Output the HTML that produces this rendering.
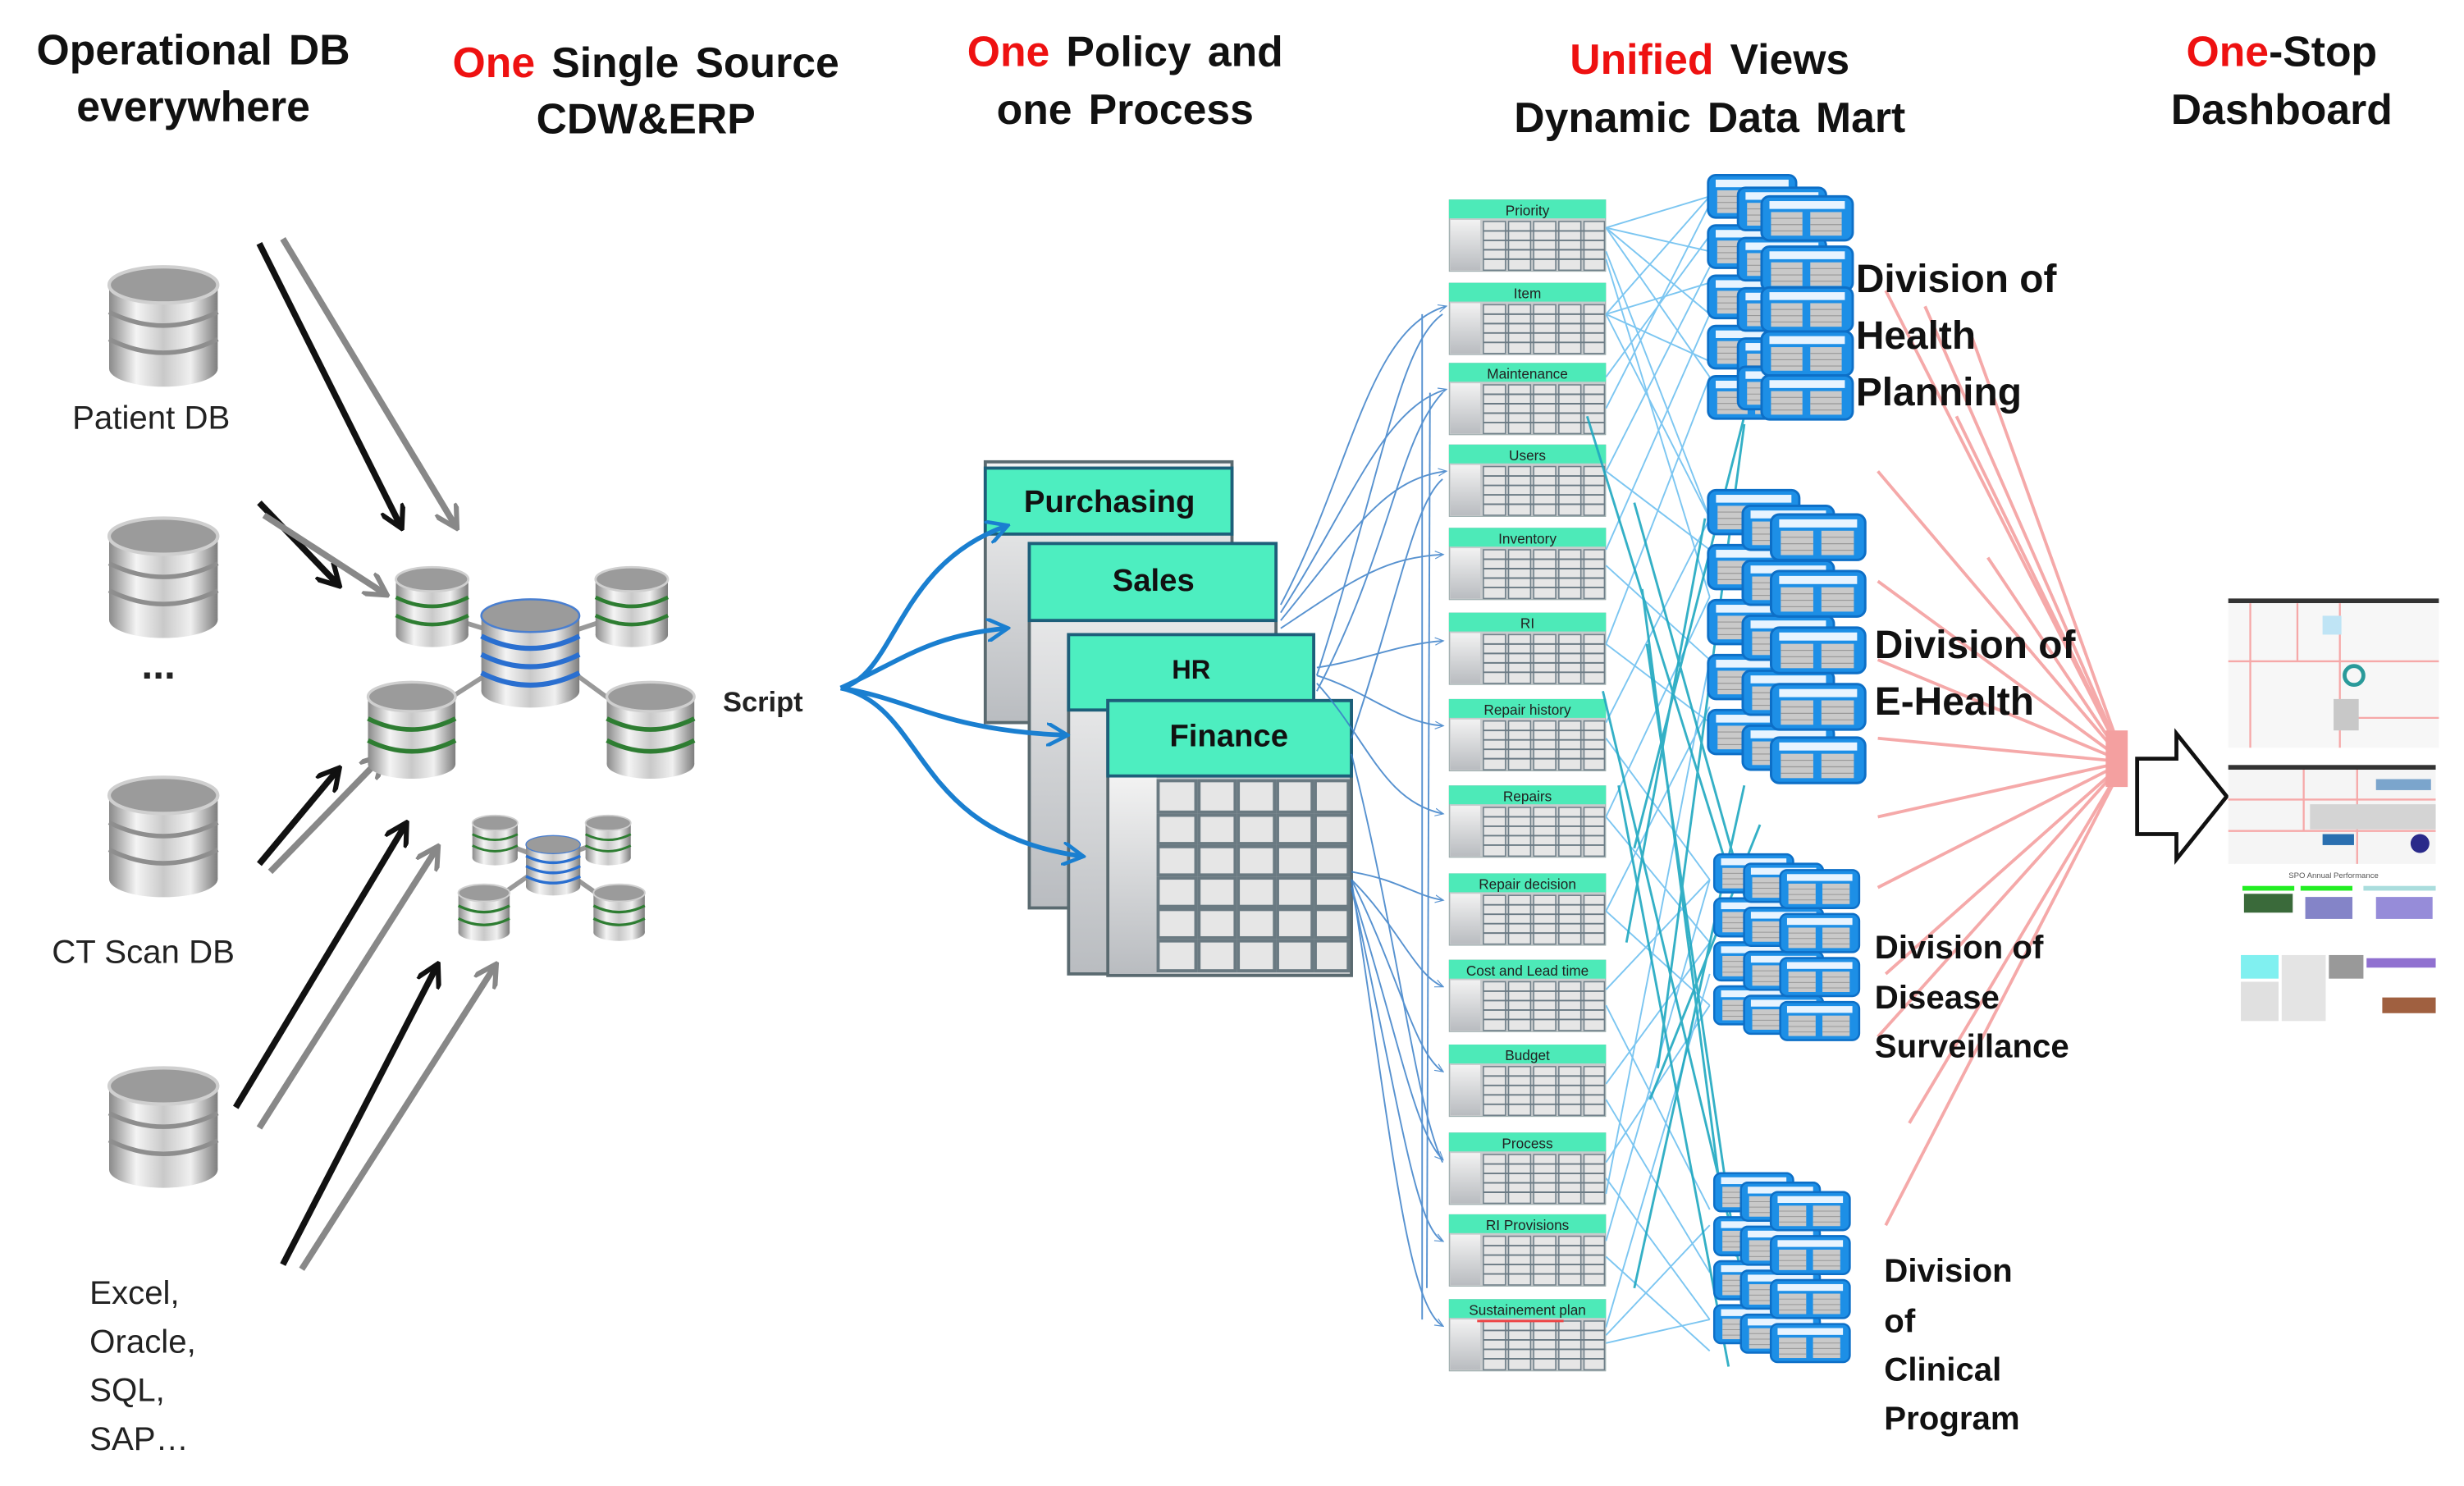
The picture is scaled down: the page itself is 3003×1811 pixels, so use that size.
<!DOCTYPE html>
<html><head><meta charset="utf-8"><style>
html,body{margin:0;padding:0;background:#fff;}
svg{display:block;}
text{font-family:"Liberation Sans",sans-serif;}
</style></head><body>
<svg width="3003" height="1811" viewBox="0 0 1568 946" preserveAspectRatio="none" xmlns="http://www.w3.org/2000/svg">
<defs>
<linearGradient id="cyl" x1="0" x2="1" y1="0" y2="0">
<stop offset="0" stop-color="#8a8a8a"/><stop offset="0.25" stop-color="#f4f4f4"/><stop offset="0.5" stop-color="#c9c9c9"/><stop offset="0.75" stop-color="#f0f0f0"/><stop offset="1" stop-color="#7d7d7d"/>
</linearGradient>
<linearGradient id="col" x1="0" x2="0" y1="0" y2="1"><stop offset="0" stop-color="#f2f2f2"/><stop offset="1" stop-color="#b9bcc0"/></linearGradient>
<symbol id="dbg" viewBox="0 0 100 110">
<rect x="2" y="18" width="96" height="74" fill="url(#cyl)"/>
<ellipse cx="50" cy="92" rx="48" ry="16" fill="url(#cyl)"/>
<path d="M2 42 Q50 66 98 42" stroke="#8e8e8e" stroke-width="4" fill="none"/>
<path d="M2 66 Q50 90 98 66" stroke="#8e8e8e" stroke-width="4" fill="none"/>
<ellipse cx="50" cy="18" rx="48" ry="16" fill="#9b9b9b" stroke="#cfcfcf" stroke-width="3"/>
</symbol>
<symbol id="dbgr" viewBox="0 0 100 110">
<rect x="2" y="18" width="96" height="74" fill="url(#cyl)"/>
<ellipse cx="50" cy="92" rx="48" ry="16" fill="url(#cyl)"/>
<path d="M2 42 Q50 66 98 42" stroke="#2e7d32" stroke-width="5" fill="none"/>
<path d="M2 66 Q50 90 98 66" stroke="#2e7d32" stroke-width="5" fill="none"/>
<ellipse cx="50" cy="18" rx="48" ry="16" fill="#9b9b9b" stroke="#cfcfcf" stroke-width="3"/>
</symbol>
<symbol id="dbb" viewBox="0 0 100 110">
<rect x="2" y="18" width="96" height="74" fill="url(#cyl)"/>
<ellipse cx="50" cy="92" rx="48" ry="16" fill="url(#cyl)"/>
<path d="M2 38 Q50 62 98 38" stroke="#2a6fd0" stroke-width="5" fill="none"/>
<path d="M2 56 Q50 80 98 56" stroke="#2a6fd0" stroke-width="5" fill="none"/>
<path d="M2 74 Q50 98 98 74" stroke="#2a6fd0" stroke-width="5" fill="none"/>
<ellipse cx="50" cy="18" rx="48" ry="16" fill="#9b9b9b" stroke="#4a7fd0" stroke-width="2"/>
</symbol>
<symbol id="tb" viewBox="0 0 100 46">
<rect x="0" y="0" width="100" height="46" fill="#c8cbcd" stroke="#9aa" stroke-width="1"/>
<rect x="0" y="0" width="100" height="12" fill="#4deab8"/>
<rect x="1" y="13" width="19" height="32" fill="url(#col)"/>
<g fill="#e6e6e6" stroke="#70808a" stroke-width="0.8">
<rect x="22" y="14" width="14" height="31"/><rect x="38" y="14" width="14" height="31"/><rect x="54" y="14" width="14" height="31"/><rect x="70" y="14" width="14" height="31"/><rect x="86" y="14" width="13" height="31"/>
</g>
<g stroke="#6a7a84" stroke-width="1"><line x1="22" y1="20" x2="99" y2="20"/><line x1="22" y1="26" x2="99" y2="26"/><line x1="22" y1="32" x2="99" y2="32"/><line x1="22" y1="38" x2="99" y2="38"/></g>
</symbol>
<symbol id="vw" viewBox="0 0 60 30">
<rect x="1" y="1" width="58" height="28" rx="5" fill="#1d8fe6" stroke="#0d6fc7" stroke-width="1.5"/>
<rect x="6" y="4" width="48" height="5" fill="#e8f4ff"/>
<rect x="7" y="11" width="20" height="15" fill="#c9c9c9"/><rect x="32" y="11" width="20" height="15" fill="#c9c9c9"/>
<g stroke="#999" stroke-width="0.6"><line x1="7" y1="15" x2="27" y2="15"/><line x1="7" y1="19" x2="27" y2="19"/><line x1="7" y1="23" x2="27" y2="23"/><line x1="32" y1="15" x2="52" y2="15"/><line x1="32" y1="19" x2="52" y2="19"/><line x1="32" y1="23" x2="52" y2="23"/></g>
</symbol>
<marker id="ab" viewBox="0 0 10 10" refX="8" refY="5" markerWidth="4" markerHeight="4" orient="auto"><path d="M0 0 L9 5 L0 10" fill="none" stroke="#111" stroke-width="2"/></marker>
<marker id="ag" viewBox="0 0 10 10" refX="8" refY="5" markerWidth="4" markerHeight="4" orient="auto"><path d="M0 0 L9 5 L0 10" fill="none" stroke="#888" stroke-width="2"/></marker>
<marker id="abl" viewBox="0 0 10 10" refX="8" refY="5" markerWidth="5" markerHeight="5" orient="auto"><path d="M0 0 L9 5 L0 10" fill="none" stroke="#1a7fd0" stroke-width="1.6"/></marker>
<marker id="at" viewBox="0 0 10 10" refX="8" refY="5" markerWidth="6" markerHeight="6" orient="auto"><path d="M0 1 L9 5 L0 9" fill="none" stroke="#3a7fc8" stroke-width="1"/></marker>
</defs>

<!-- Titles -->
<g font-weight="bold" font-size="27" text-anchor="middle" fill="#111" word-spacing="3">
<text x="123" y="41">Operational DB</text><text x="123" y="77">everywhere</text>
<text x="411" y="49"><tspan fill="#ee1111">One</tspan> Single Source</text><text x="411" y="85">CDW&amp;ERP</text>
<text x="716" y="42"><tspan fill="#ee1111">One</tspan> Policy and</text><text x="716" y="79">one Process</text>
<text x="1088" y="47"><tspan fill="#ee1111">Unified</tspan> Views</text><text x="1088" y="84">Dynamic Data Mart</text>
<text x="1452" y="42"><tspan fill="#ee1111">One</tspan>-Stop</text><text x="1452" y="79">Dashboard</text>
</g>

<!-- source DBs -->
<use href="#dbg" x="68" y="168" width="72" height="80"/>
<use href="#dbg" x="68" y="328" width="72" height="80"/>
<use href="#dbg" x="68" y="493" width="72" height="80"/>
<use href="#dbg" x="68" y="678" width="72" height="80"/>
<g font-size="21" fill="#222">
<text x="46" y="273">Patient DB</text>
<text x="90" y="432" font-size="26" font-weight="bold">...</text>
<text x="33" y="613">CT Scan DB</text>
<text x="57" y="830">Excel,</text><text x="57" y="861">Oracle,</text><text x="57" y="892">SQL,</text><text x="57" y="923">SAP…</text>
</g>

<!-- black/gray arrows -->
<g stroke-width="4" fill="none">
<line x1="165" y1="155" x2="255" y2="335" stroke="#111" marker-end="url(#ab)"/>
<line x1="180" y1="152" x2="290" y2="335" stroke="#888" marker-end="url(#ag)"/>
<line x1="165" y1="320" x2="215" y2="372" stroke="#111" marker-end="url(#ab)"/>
<line x1="168" y1="328" x2="245" y2="378" stroke="#888" marker-end="url(#ag)"/>
<line x1="165" y1="550" x2="215" y2="490" stroke="#111" marker-end="url(#ab)"/>
<line x1="172" y1="555" x2="243" y2="482" stroke="#888" marker-end="url(#ag)"/>
<line x1="150" y1="705" x2="258" y2="525" stroke="#111" marker-end="url(#ab)"/>
<line x1="165" y1="718" x2="278" y2="540" stroke="#888" marker-end="url(#ag)"/>
<line x1="180" y1="805" x2="278" y2="615" stroke="#111" marker-end="url(#ab)"/>
<line x1="192" y1="808" x2="315" y2="615" stroke="#888" marker-end="url(#ag)"/>
</g>

<!-- central cluster -->
<g stroke="#999" stroke-width="3">
<line x1="275" y1="390" x2="340" y2="410"/><line x1="400" y1="390" x2="340" y2="410"/>
<line x1="262" y1="460" x2="340" y2="410"/><line x1="415" y1="465" x2="340" y2="410"/>
<line x1="315" y1="535" x2="350" y2="548"/><line x1="385" y1="535" x2="350" y2="548"/><line x1="307" y1="578" x2="350" y2="548"/><line x1="393" y1="578" x2="350" y2="548"/>
</g>
<use href="#dbgr" x="251" y="358" width="48" height="57"/>
<use href="#dbgr" x="378" y="358" width="48" height="57"/>
<use href="#dbb" x="305" y="372" width="65" height="88"/>
<use href="#dbgr" x="233" y="430" width="58" height="70"/>
<use href="#dbgr" x="385" y="430" width="58" height="70"/>
<use href="#dbgr" x="300" y="517" width="30" height="36"/>
<use href="#dbgr" x="372" y="517" width="30" height="36"/>
<use href="#dbb" x="334" y="527" width="36" height="48"/>
<use href="#dbgr" x="291" y="561" width="34" height="40"/>
<use href="#dbgr" x="377" y="561" width="34" height="40"/>

<text x="460" y="453" font-size="18" font-weight="bold" fill="#222" font-family="Liberation Serif">Script</text>

<!-- stacked tables -->
<g stroke="#1d5f7a" stroke-width="2">
<rect x="627" y="294" width="157" height="166" fill="url(#col)" stroke="#5a6a70"/>
<rect x="627" y="298" width="157" height="42" fill="#4deec0"/>
<rect x="655" y="346" width="157" height="232" fill="url(#col)" stroke="#5a6a70"/>
<rect x="655" y="346" width="157" height="49" fill="#4deec0"/>
<rect x="680" y="404" width="156" height="216" fill="url(#col)" stroke="#5a6a70"/>
<rect x="680" y="404" width="156" height="48" fill="#4deec0"/>
<rect x="705" y="446" width="155" height="175" fill="#c8cbcd" stroke="#5a6a70"/>
<rect x="705" y="446" width="155" height="48" fill="#4deec0"/>
<rect x="706" y="495" width="30" height="125" fill="url(#col)" stroke="none"/>
</g>
<g fill="#e6e6e6" stroke="#6a7a82" stroke-width="2">
<rect x="737" y="497" width="24" height="20"/><rect x="763" y="497" width="23" height="20"/><rect x="788" y="497" width="23" height="20"/><rect x="813" y="497" width="22" height="20"/><rect x="837" y="497" width="21" height="20"/>
<rect x="737" y="519" width="24" height="18"/><rect x="763" y="519" width="23" height="18"/><rect x="788" y="519" width="23" height="18"/><rect x="813" y="519" width="22" height="18"/><rect x="837" y="519" width="21" height="18"/>
<rect x="737" y="539" width="24" height="18"/><rect x="763" y="539" width="23" height="18"/><rect x="788" y="539" width="23" height="18"/><rect x="813" y="539" width="22" height="18"/><rect x="837" y="539" width="21" height="18"/>
<rect x="737" y="559" width="24" height="18"/><rect x="763" y="559" width="23" height="18"/><rect x="788" y="559" width="23" height="18"/><rect x="813" y="559" width="22" height="18"/><rect x="837" y="559" width="21" height="18"/>
<rect x="737" y="579" width="24" height="18"/><rect x="763" y="579" width="23" height="18"/><rect x="788" y="579" width="23" height="18"/><rect x="813" y="579" width="22" height="18"/><rect x="837" y="579" width="21" height="18"/>
<rect x="737" y="599" width="24" height="19"/><rect x="763" y="599" width="23" height="19"/><rect x="788" y="599" width="23" height="19"/><rect x="813" y="599" width="22" height="19"/><rect x="837" y="599" width="21" height="19"/>
</g>
<g font-weight="bold" fill="#111" text-anchor="middle" font-family="Liberation Sans">
<text x="706" y="326" font-size="20">Purchasing</text>
<text x="734" y="376" font-size="20">Sales</text>
<text x="758" y="432" font-size="17">HR</text>
<text x="782" y="475" font-size="20">Finance</text>
</g>

<!-- blue fan from script (over tables) -->
<g stroke="#1a7fd0" stroke-width="3" fill="none">
<path d="M535 438 C570 430 570 360 640 335" marker-end="url(#abl)"/>
<path d="M535 438 C575 420 590 405 640 400" marker-end="url(#abl)"/>
<path d="M535 438 C580 445 600 465 678 468" marker-end="url(#abl)"/>
<path d="M535 438 C590 450 580 530 688 545" marker-end="url(#abl)"/>
</g>

<!-- thin blue curves to table column -->
<g stroke="#3a7fc8" stroke-width="1" fill="none" opacity="0.85">
<path d="M815 385 C860 300 870 210 920 195" marker-end="url(#at)"/>
<path d="M815 390 C860 320 880 260 920 248" marker-end="url(#at)"/>
<path d="M815 395 C860 340 880 305 920 300" marker-end="url(#at)"/>
<path d="M815 400 C860 370 880 355 918 353" marker-end="url(#at)"/>
<path d="M838 425 C870 420 890 410 918 408" marker-end="url(#at)"/>
<path d="M838 430 C870 440 890 460 918 462" marker-end="url(#at)"/>
<path d="M838 435 C870 470 880 510 918 518" marker-end="url(#at)"/>
<path d="M860 555 C890 560 900 570 918 573" marker-end="url(#at)"/>
<path d="M860 560 C890 590 900 620 918 628" marker-end="url(#at)"/>
<path d="M860 560 C890 620 900 670 918 682" marker-end="url(#at)"/>
<path d="M860 565 C890 660 900 720 918 738" marker-end="url(#at)"/>
<path d="M860 565 C890 700 900 780 918 790" marker-end="url(#at)"/>
<path d="M860 560 C885 720 895 830 918 844" marker-end="url(#at)"/>
<path d="M838 430 C880 300 890 220 918 200"/>
<path d="M838 440 C885 350 890 280 918 250"/>
<path d="M860 470 C890 380 900 320 918 305"/>
<path d="M860 480 C890 600 900 700 918 740"/>
<path d="M905 200 L905 840"/><path d="M910 250 L908 820"/>
</g>

<!-- table column -->
<g>
<use href="#tb" x="922" y="127" width="100" height="46"/>
<use href="#tb" x="922" y="180" width="100" height="46"/>
<use href="#tb" x="922" y="231" width="100" height="46"/>
<use href="#tb" x="922" y="283" width="100" height="46"/>
<use href="#tb" x="922" y="336" width="100" height="46"/>
<use href="#tb" x="922" y="390" width="100" height="46"/>
<use href="#tb" x="922" y="445" width="100" height="46"/>
<use href="#tb" x="922" y="500" width="100" height="46"/>
<use href="#tb" x="922" y="556" width="100" height="46"/>
<use href="#tb" x="922" y="611" width="100" height="46"/>
<use href="#tb" x="922" y="665" width="100" height="46"/>
<use href="#tb" x="922" y="721" width="100" height="46"/>
<use href="#tb" x="922" y="773" width="100" height="46"/>
<use href="#tb" x="922" y="827" width="100" height="46"/>
</g>
<g font-size="9" fill="#222" text-anchor="middle" font-family="Liberation Sans Narrow, Liberation Sans">
<text x="972" y="137">Priority</text><text x="972" y="190">Item</text><text x="972" y="241">Maintenance</text><text x="972" y="293">Users</text><text x="972" y="346">Inventory</text><text x="972" y="400">RI</text><text x="972" y="455">Repair history</text><text x="972" y="510">Repairs</text><text x="972" y="566">Repair decision</text><text x="972" y="621">Cost and Lead time</text><text x="972" y="675">Budget</text><text x="972" y="731">Process</text><text x="972" y="783">RI Provisions</text><text x="972" y="837">Sustainement plan</text>
</g>
<line x1="940" y1="841" x2="995" y2="841" stroke="#e44" stroke-width="1.5"/>

<!-- crossing lines -->
<g stroke="#6ec0f0" stroke-width="1" opacity="0.9">
<line x1="1022" y1="145" x2="1088" y2="125"/><line x1="1022" y1="145" x2="1088" y2="160"/><line x1="1022" y1="145" x2="1088" y2="200"/><line x1="1022" y1="145" x2="1088" y2="240"/>
<line x1="1022" y1="200" x2="1088" y2="125"/><line x1="1022" y1="200" x2="1088" y2="180"/><line x1="1022" y1="200" x2="1088" y2="230"/><line x1="1022" y1="200" x2="1088" y2="330"/>
<line x1="1022" y1="160" x2="1088" y2="330"/><line x1="1022" y1="165" x2="1088" y2="380"/><line x1="1022" y1="260" x2="1088" y2="130"/><line x1="1022" y1="240" x2="1088" y2="150"/>
<line x1="1022" y1="300" x2="1088" y2="170"/><line x1="1022" y1="300" x2="1088" y2="350"/><line x1="1022" y1="350" x2="1088" y2="200"/><line x1="1022" y1="360" x2="1088" y2="420"/>
<line x1="1022" y1="410" x2="1088" y2="240"/><line x1="1022" y1="410" x2="1088" y2="460"/><line x1="1022" y1="460" x2="1088" y2="330"/><line x1="1022" y1="470" x2="1088" y2="560"/>
<line x1="1022" y1="520" x2="1088" y2="380"/><line x1="1022" y1="520" x2="1088" y2="600"/><line x1="1022" y1="580" x2="1088" y2="450"/><line x1="1022" y1="580" x2="1088" y2="640"/>
<line x1="1022" y1="630" x2="1088" y2="560"/><line x1="1022" y1="640" x2="1088" y2="770"/><line x1="1022" y1="690" x2="1088" y2="600"/><line x1="1022" y1="700" x2="1088" y2="810"/>
<line x1="1022" y1="740" x2="1088" y2="640"/><line x1="1022" y1="750" x2="1088" y2="840"/><line x1="1022" y1="790" x2="1088" y2="560"/><line x1="1022" y1="800" x2="1088" y2="860"/>
<line x1="1022" y1="845" x2="1088" y2="620"/><line x1="1022" y1="850" x2="1088" y2="780"/><line x1="1022" y1="855" x2="1088" y2="840"/><line x1="1022" y1="760" x2="1088" y2="420"/>
</g>
<g stroke="#1fa8c0" stroke-width="1.5" opacity="0.9">
<line x1="1010" y1="265" x2="1100" y2="555"/><line x1="1040" y1="320" x2="1110" y2="570"/><line x1="1045" y1="375" x2="1095" y2="760"/><line x1="1048" y1="410" x2="1105" y2="800"/>
<line x1="1040" y1="540" x2="1110" y2="265"/><line x1="1035" y1="600" x2="1085" y2="330"/><line x1="1050" y1="700" x2="1120" y2="525"/><line x1="1040" y1="820" x2="1110" y2="500"/>
<line x1="1030" y1="500" x2="1100" y2="870"/><line x1="1020" y1="440" x2="1120" y2="860"/><line x1="1055" y1="680" x2="1110" y2="270"/>
</g>

<!-- views groups -->
<g>
<use href="#vw" x="1086" y="110" width="58" height="30"/><use href="#vw" x="1086" y="142" width="58" height="30"/><use href="#vw" x="1086" y="174" width="58" height="30"/><use href="#vw" x="1086" y="206" width="58" height="30"/><use href="#vw" x="1086" y="238" width="58" height="30"/>
<use href="#vw" x="1105" y="118" width="58" height="30"/><use href="#vw" x="1105" y="150" width="58" height="30"/><use href="#vw" x="1105" y="182" width="58" height="30"/><use href="#vw" x="1105" y="214" width="58" height="30"/><use href="#vw" x="1105" y="232" width="58" height="30"/>
<use href="#vw" x="1120" y="124" width="60" height="30"/><use href="#vw" x="1120" y="156" width="60" height="30"/><use href="#vw" x="1120" y="182" width="60" height="30"/><use href="#vw" x="1120" y="210" width="60" height="30"/><use href="#vw" x="1120" y="238" width="60" height="30"/>

<use href="#vw" x="1086" y="310" width="60" height="32"/><use href="#vw" x="1086" y="345" width="60" height="32"/><use href="#vw" x="1086" y="380" width="60" height="32"/><use href="#vw" x="1086" y="415" width="60" height="32"/><use href="#vw" x="1086" y="450" width="60" height="32"/>
<use href="#vw" x="1108" y="320" width="60" height="32"/><use href="#vw" x="1108" y="355" width="60" height="32"/><use href="#vw" x="1108" y="390" width="60" height="32"/><use href="#vw" x="1108" y="425" width="60" height="32"/><use href="#vw" x="1108" y="460" width="60" height="32"/>
<use href="#vw" x="1126" y="326" width="62" height="32"/><use href="#vw" x="1126" y="362" width="62" height="32"/><use href="#vw" x="1126" y="398" width="62" height="32"/><use href="#vw" x="1126" y="434" width="62" height="32"/><use href="#vw" x="1126" y="468" width="62" height="32"/>

<use href="#vw" x="1088" y="543" width="56" height="26"/><use href="#vw" x="1088" y="571" width="56" height="26"/><use href="#vw" x="1088" y="599" width="56" height="26"/><use href="#vw" x="1088" y="627" width="56" height="26"/>
<use href="#vw" x="1106" y="549" width="58" height="26"/><use href="#vw" x="1106" y="577" width="58" height="26"/><use href="#vw" x="1106" y="605" width="58" height="26"/><use href="#vw" x="1106" y="633" width="58" height="26"/>
<use href="#vw" x="1128" y="553" width="60" height="26"/><use href="#vw" x="1128" y="581" width="60" height="26"/><use href="#vw" x="1128" y="609" width="60" height="26"/><use href="#vw" x="1128" y="637" width="60" height="26"/>

<use href="#vw" x="1088" y="746" width="56" height="26"/><use href="#vw" x="1088" y="774" width="56" height="26"/><use href="#vw" x="1088" y="802" width="56" height="26"/><use href="#vw" x="1088" y="830" width="56" height="26"/>
<use href="#vw" x="1104" y="752" width="58" height="26"/><use href="#vw" x="1104" y="780" width="58" height="26"/><use href="#vw" x="1104" y="808" width="58" height="26"/><use href="#vw" x="1104" y="836" width="58" height="26"/>
<use href="#vw" x="1122" y="758" width="60" height="26"/><use href="#vw" x="1122" y="786" width="60" height="26"/><use href="#vw" x="1122" y="814" width="60" height="26"/><use href="#vw" x="1122" y="842" width="60" height="26"/>
</g>

<!-- pink lines -->
<g stroke="#f4a0a0" stroke-width="2" opacity="0.9">
<line x1="1200" y1="185" x2="1352" y2="485"/><line x1="1225" y1="195" x2="1352" y2="485"/><line x1="1255" y1="215" x2="1352" y2="485"/><line x1="1245" y1="265" x2="1352" y2="485"/>
<line x1="1195" y1="300" x2="1352" y2="485"/><line x1="1195" y1="370" x2="1352" y2="485"/><line x1="1195" y1="420" x2="1352" y2="485"/><line x1="1195" y1="470" x2="1352" y2="485"/>
<line x1="1195" y1="520" x2="1352" y2="485"/><line x1="1195" y1="565" x2="1352" y2="485"/><line x1="1200" y1="620" x2="1352" y2="485"/><line x1="1195" y1="660" x2="1352" y2="485"/>
<line x1="1200" y1="780" x2="1352" y2="485"/><line x1="1215" y1="715" x2="1352" y2="485"/><line x1="1265" y1="355" x2="1352" y2="485"/>
</g>
<rect x="1340" y="465" width="14" height="36" fill="#f4a0a0"/>

<!-- division labels -->
<g font-weight="bold" fill="#111" font-family="Liberation Sans">
<text x="1181" y="186" font-size="25">Division of</text><text x="1181" y="222" font-size="25">Health</text><text x="1181" y="258" font-size="25">Planning</text>
<text x="1193" y="419" font-size="25">Division of</text><text x="1193" y="455" font-size="25">E-Health</text>
<text x="1193" y="610" font-size="21">Division of</text><text x="1193" y="642" font-size="21">Disease</text><text x="1193" y="673" font-size="21">Surveillance</text>
<text x="1199" y="816" font-size="21">Division</text><text x="1199" y="848" font-size="21">of</text><text x="1199" y="879" font-size="21">Clinical</text><text x="1199" y="910" font-size="21">Program</text>
</g>

<!-- big arrow -->
<path d="M1360 483 L1385 483 L1385 467 L1417 507 L1385 547 L1385 531 L1360 531 Z" fill="#fff" stroke="#111" stroke-width="2.5"/>

<!-- dashboard -->
<g>
<rect x="1418" y="381" width="134" height="3" fill="#333"/>
<rect x="1418" y="384" width="134" height="92" fill="#f7f7f7"/>
<g stroke="#f6a8a8" stroke-width="1.2"><line x1="1418" y1="421" x2="1552" y2="421"/><line x1="1432" y1="384" x2="1432" y2="476"/><line x1="1462" y1="384" x2="1462" y2="421"/><line x1="1489" y1="384" x2="1489" y2="476"/><line x1="1489" y1="457" x2="1552" y2="457"/></g>
<rect x="1478" y="392" width="12" height="12" fill="#bfe4f5"/><ellipse cx="1498" cy="430" rx="6" ry="6" fill="none" stroke="#2a9a9a" stroke-width="2.5"/>
<rect x="1485" y="445" width="16" height="20" fill="#c8c8c8"/>
<rect x="1418" y="487" width="132" height="3" fill="#333"/>
<rect x="1418" y="490" width="132" height="60" fill="#f5f5f5"/>
<g stroke="#f6a8a8" stroke-width="1.2"><line x1="1418" y1="509" x2="1550" y2="509"/><line x1="1418" y1="529" x2="1550" y2="529"/><line x1="1466" y1="490" x2="1466" y2="529"/><line x1="1500" y1="490" x2="1500" y2="550"/></g>
<rect x="1470" y="512" width="80" height="16" fill="#d4d4d4"/>
<rect x="1512" y="496" width="35" height="7" fill="#2a6fb0" opacity="0.6"/>
<rect x="1478" y="531" width="20" height="7" fill="#2a6fb0"/>
<circle cx="1540" cy="537" r="6" fill="#2a2a8a"/>
<text x="1485" y="559" font-size="5" fill="#555" text-anchor="middle">SPO Annual Performance</text>
<rect x="1427" y="564" width="33" height="3" fill="#22ee22"/><rect x="1464" y="564" width="33" height="3" fill="#22ee22"/><rect x="1504" y="564" width="46" height="3" fill="#aadddd"/>
<rect x="1428" y="569" width="31" height="12" fill="#3a6a3a"/><rect x="1467" y="571" width="30" height="14" fill="#5050b0" opacity="0.7"/><rect x="1512" y="571" width="36" height="14" fill="#5040c0" opacity="0.6"/>
<rect x="1426" y="608" width="24" height="15" fill="#80f0f0"/><rect x="1452" y="608" width="28" height="42" fill="#e4e4e4"/><rect x="1482" y="608" width="22" height="15" fill="#999"/><rect x="1506" y="610" width="44" height="6" fill="#9070d0"/><rect x="1516" y="635" width="34" height="10" fill="#a06040"/>
<rect x="1426" y="625" width="24" height="25" fill="#e0e0e0"/>
</g>
</svg>
</body></html>
